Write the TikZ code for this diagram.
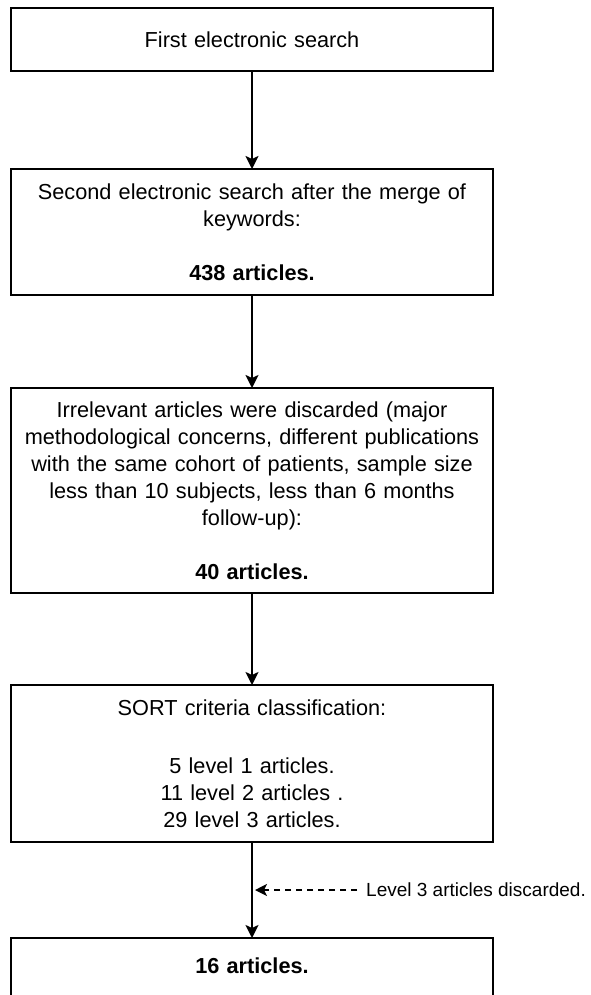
\documentclass[tikz,border=0pt]{standalone}
\usepackage{fontspec}
\setmainfont{Liberation Sans}
\usetikzlibrary{shapes,arrows.meta,positioning}

\begin{document}
\begin{tikzpicture}[x=1pt,y=-1pt,
                   box/.style={draw,line width=1.8pt,outer sep=0pt,text width=460pt,align=center,minimum width=482pt,inner xsep=11pt,inner ysep=0pt,font=\fontsize{21.7}{27}\selectfont},
                   flow/.style={line width=2pt,-{Stealth[length=13pt,width=13pt,inset=3pt]}},
                   drop/.style={line width=2pt,dash pattern=on 6pt off 5pt,-{Stealth[length=12pt,width=12pt,inset=3pt]}}]
\useasboundingbox (0,0) rectangle (590,995);
\node[box,minimum height=63pt,anchor=north] (first) at (252,8) {First electronic search};
\node[box,minimum height=126pt,below=98pt of first] (second) {Second electronic search after the merge of\\ keywords:\\[27pt] \textbf{438 articles.}};
\node[box,minimum height=205pt,below=93pt of second] (irrel) {Irrelevant articles were discarded (major\\ methodological concerns, different publications\\ with the same cohort of patients, sample size\\ less than 10 subjects, less than 6 months\\ follow-up):\\[27pt] \textbf{40 articles.}};
\node[box,minimum height=157pt,below=92pt of irrel] (sort) {SORT criteria classification:\\[31pt] 5 level 1 articles.\\ 11 level 2 articles .\\ 29 level 3 articles.};
\node[box,text height=35pt,text depth=80pt,below=96pt of sort] (final) {\textbf{16 articles.}};
\node[font=\fontsize{19}{23}\selectfont,anchor=west,inner xsep=0pt] (lvl3) at (366,890) {Level 3 articles discarded.};
\coordinate[xshift=3pt] (hit) at (sort.south |- lvl3.west);
\draw[flow] (first) -- (second);
\draw[flow] (second) -- (irrel);
\draw[flow] (irrel) -- (sort);
\draw[flow] (sort) -- (final);
\draw[drop,shorten <=9pt] (lvl3.west) -- (hit);
\end{tikzpicture}
\end{document}
